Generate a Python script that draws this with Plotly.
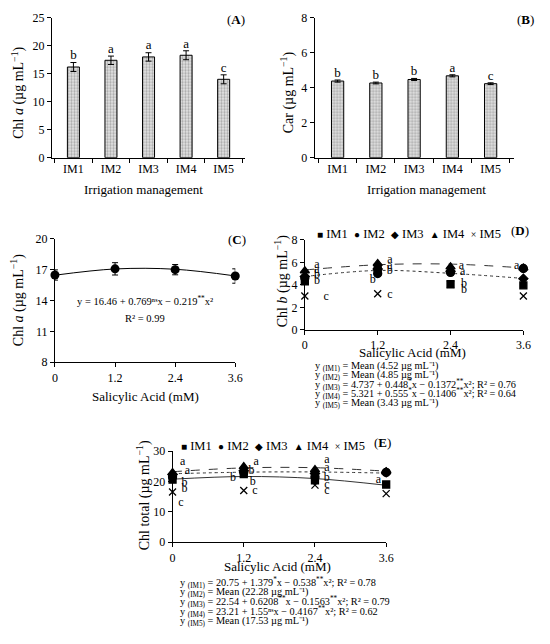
import plotly.graph_objects as go

W, H = 550, 644
FONT = "Liberation Serif"

# (A) and (B): irrigation management
im_labels = ["IM1", "IM2", "IM3", "IM4", "IM5"]
chl_a_im = [16.2, 17.4, 18.0, 18.3, 14.0]
chl_a_im_err = [0.8, 0.75, 0.75, 0.8, 0.8]
chl_a_im_letters = ["b", "a", "a", "a", "c"]
car_im = [4.38, 4.27, 4.47, 4.68, 4.23]
car_im_err = [0.06, 0.05, 0.06, 0.06, 0.05]
car_im_letters = ["b", "b", "b", "a", "c"]

# (C): Chl a vs salicylic acid
sa_doses = [0, 1.2, 2.4, 3.6]
sa_ticks = ["0", "1.2", "2.4", "3.6"]
chl_a_sa = [16.48, 17.08, 17.0, 16.38]
chl_a_sa_err = [0.5, 0.6, 0.5, 0.7]
chl_a_sa_fit = [16.46, 17.07, 17.04, 16.39]

# (D): Chl b, one series per irrigation management
chl_b_im1 = [4.3, 5.5, 4.05, 3.95]
chl_b_im2 = [4.6, 5.0, 5.1, 5.45]
chl_b_im3 = [4.75, 5.4, 5.2, 4.55]
chl_b_im4 = [5.25, 5.9, 5.6, 5.5]
chl_b_im5 = [3.0, 3.2, 4.05, 3.0]
chl_b_fit_im3 = [4.737, 5.277, 5.022, 4.571]
chl_b_fit_im4 = [5.321, 5.783, 5.843, 5.500]
chl_b_letter_x = [0.2, 0.2, 0.2, 0.2, 0.35,
                  1.4, 1.4, 1.4, 1.12, 1.4,
                  2.58, 2.6, 2.62, 2.62,
                  3.49, 3.74, 3.74, 3.74, 3.74]
chl_b_letter_y = [5.75, 5.3, 4.85, 4.3, 2.9,
                  6.2, 5.7, 5.25, 4.45, 3.1,
                  5.7, 5.15, 4.1, 3.5,
                  5.65, 5.95, 4.8, 3.6, 2.8]
chl_b_letter_text = ["a", "a", "b", "b", "c",
                     "a", "a", "b", "b", "c",
                     "a", "a", "b", "b",
                     "a", "a", "b", "c", "d"]

# (E): total chlorophyll
chl_t_im1 = [20.6, 22.4, 20.4, 19.0]
chl_t_im2 = [21.5, 23.0, 21.5, 23.0]
chl_t_im3 = [22.3, 23.5, 22.6, 23.0]
chl_t_im4 = [22.9, 24.9, 23.9, 23.2]
chl_t_im5 = [16.5, 17.0, 18.8, 16.0]
chl_t_fit_im1 = [20.75, 21.63, 20.96, 18.74]
chl_t_fit_im3 = [22.54, 23.06, 23.13, 22.75]
chl_t_fit_im4 = [23.21, 24.47, 24.53, 23.39]
chl_t_letter_x = [0.17, 0.25, 0.2, 0.2, 0.14,
                  1.41, 1.33, 1.02, 1.35, 1.39,
                  2.6, 2.6, 2.6, 2.6, 2.6,
                  3.47, 3.72, 3.72, 3.72, 3.72]
chl_t_letter_y = [26.5, 23.5, 19.5, 17.5, 13.0,
                  26.5, 23.5, 21.1, 19.7, 16.8,
                  27.0, 24.3, 21.1, 18.9, 16.8,
                  20.5, 25.4, 21.1, 17.5, 15.2]
chl_t_letter_text = ["a", "a", "b", "b", "c",
                     "a", "b", "b", "b", "c",
                     "a", "a", "b", "c", "c",
                     "a", "a", "a", "b", "c"]

legend_names = ["IM1", "IM2", "IM3", "IM4", "IM5"]
legend_glyphs = ["■", "●", "◆", "▲", "×"]
eq_c = ["y = 16.46 + 0.769ⁿˢx − 0.219<sup>**</sup>x²",
        "R² = 0.99"]
eq_d = ["y <sub>(IM1)</sub> = Mean (4.52 µg mL⁻¹)",
        "y <sub>(IM2)</sub> = Mean (4.85 µg mL⁻¹)",
        "y <sub>(IM3)</sub> = 4.737 + 0.448<sup>*</sup>x − 0.1372<sup>**</sup>x²; R² = 0.76",
        "y <sub>(IM4)</sub> = 5.321 + 0.555<sup>*</sup>x − 0.1406<sup>**</sup>x²; R² = 0.64",
        "y <sub>(IM5)</sub> = Mean (3.43 µg mL⁻¹)"]
eq_e = ["y <sub>(IM1)</sub> = 20.75 + 1.379<sup>*</sup>x − 0.538<sup>**</sup>x²; R² = 0.78",
        "y <sub>(IM2)</sub> = Mean (22.28 µg mL⁻¹)",
        "y <sub>(IM3)</sub> = 22.54 + 0.6208<sup>**</sup>x − 0.1563<sup>**</sup>x²; R² = 0.79",
        "y <sub>(IM4)</sub> = 23.21 + 1.55ⁿˢx − 0.4167<sup>**</sup>x²; R² = 0.62",
        "y <sub>(IM5)</sub> = Mean (17.53 µg mL⁻¹)"]


def px_x(p):
    return p / W


def px_y(p):
    return 1 - p / H


def ann(text, x, y, size=12, xanchor="center", angle=0):
    return dict(text=text, x=px_x(x), y=px_y(y), xref="paper", yref="paper",
                showarrow=False, xanchor=xanchor, yanchor="middle",
                textangle=angle, font=dict(size=size, family=FONT, color="black"))


fig = go.Figure()

bar_marker = dict(
    color="#dcdcdc",
    line=dict(color="black", width=1),
    pattern=dict(shape=".", fgcolor="#707070", bgcolor="#e4e4e4", size=3, solidity=0.45),
)

# bars A and B
for n, (vals, errs, letters) in enumerate(
        [(chl_a_im, chl_a_im_err, chl_a_im_letters), (car_im, car_im_err, car_im_letters)], start=1):
    ax = "" if n == 1 else str(n)
    fig.add_trace(go.Bar(
        x=im_labels, y=vals, width=0.32, marker=bar_marker,
        error_y=dict(type="data", array=errs, color="black", thickness=1, width=3),
        xaxis="x" + ax, yaxis="y" + ax, showlegend=False,
    ))
    fig.add_trace(go.Scatter(
        x=im_labels, y=[v + e for v, e in zip(vals, errs)], text=letters,
        mode="text", textposition="top center",
        textfont=dict(size=13, family=FONT, color="black"),
        xaxis="x" + ax, yaxis="y" + ax, showlegend=False, cliponaxis=False,
    ))

# C
fig.add_trace(go.Scatter(
    x=sa_doses, y=chl_a_sa_fit, mode="lines", line=dict(color="black", width=1, shape="spline"),
    xaxis="x3", yaxis="y3", showlegend=False,
))
fig.add_trace(go.Scatter(
    x=sa_doses, y=chl_a_sa, mode="markers",
    marker=dict(symbol="circle", size=9, color="black"),
    error_y=dict(type="data", array=chl_a_sa_err, color="black", thickness=1, width=3),
    xaxis="x3", yaxis="y3", showlegend=False, cliponaxis=False,
))

symbols = [("square", 7), ("circle", 8), ("diamond", 7), ("triangle-up", 8), ("x-thin-open", 7)]


def add_series(series, ax, fits, letters):
    for (dash, fit) in fits:
        fig.add_trace(go.Scatter(
            x=sa_doses, y=fit, mode="lines",
            line=dict(color="#333333", width=1, dash=dash, shape="spline"),
            xaxis="x" + ax, yaxis="y" + ax, showlegend=False,
        ))
    for (sym, size), vals in zip(symbols, series):
        fig.add_trace(go.Scatter(
            x=sa_doses, y=vals, mode="markers",
            marker=dict(symbol=sym, size=size, color="black", line=dict(color="black", width=1.3)),
            xaxis="x" + ax, yaxis="y" + ax, showlegend=False, cliponaxis=False,
        ))
    lx, ly, lt = letters
    fig.add_trace(go.Scatter(
        x=lx, y=ly, text=lt, mode="text", textposition="middle center",
        textfont=dict(size=12, family=FONT, color="black"),
        xaxis="x" + ax, yaxis="y" + ax, showlegend=False, cliponaxis=False,
    ))


add_series([chl_b_im1, chl_b_im2, chl_b_im3, chl_b_im4, chl_b_im5], "4",
           [("dot", chl_b_fit_im3), ("dash", chl_b_fit_im4)],
           (chl_b_letter_x, chl_b_letter_y, chl_b_letter_text))
add_series([chl_t_im1, chl_t_im2, chl_t_im3, chl_t_im4, chl_t_im5], "5",
           [("solid", chl_t_fit_im1), ("dot", chl_t_fit_im3), ("dash", chl_t_fit_im4)],
           (chl_t_letter_x, chl_t_letter_y, chl_t_letter_text))

axis_style = dict(showline=True, linecolor="black", linewidth=1, ticks="outside",
                  ticklen=4, tickcolor="black", showgrid=False, zeroline=False,
                  tickfont=dict(size=12, family=FONT, color="black"))


def dom_x(a, b):
    return [px_x(a), px_x(b)]


def dom_y(top, bottom):
    return [px_y(bottom), px_y(top)]


sa_x = dict(axis_style, tickvals=sa_doses, ticktext=sa_ticks, range=[0, 3.6])

fig.update_layout(
    width=W, height=H,
    margin=dict(l=0, r=0, t=0, b=0),
    paper_bgcolor="white", plot_bgcolor="white",
    font=dict(family=FONT, color="black"),
    xaxis=dict(axis_style, domain=dom_x(50, 247), range=[-0.57, 4.57], tickson="boundaries", anchor="y"),
    yaxis=dict(axis_style, domain=dom_y(11, 154), range=[0, 25], dtick=5, anchor="x"),
    xaxis2=dict(axis_style, domain=dom_x(318, 521), range=[-0.6, 4.6], tickson="boundaries", anchor="y2"),
    yaxis2=dict(axis_style, domain=dom_y(11, 154), range=[0, 8], dtick=2, anchor="x2"),
    xaxis3=dict(sa_x, domain=dom_x(53, 237), anchor="y3"),
    yaxis3=dict(axis_style, domain=dom_y(237, 363), range=[8, 20], tick0=8, dtick=3, anchor="x3"),
    xaxis4=dict(sa_x, domain=dom_x(308, 531), anchor="y4"),
    yaxis4=dict(axis_style, domain=dom_y(238, 330), range=[0, 8], dtick=2, anchor="x4"),
    xaxis5=dict(sa_x, domain=dom_x(173, 391), anchor="y5"),
    yaxis5=dict(axis_style, domain=dom_y(454, 547), range=[0, 30], dtick=10, anchor="x5"),
)

legend_text = "  ".join(
    f'<span style="font-size:10px">{g}</span> {n}' for g, n in zip(legend_glyphs, legend_names))

annotations = [
    ann("(<b>A</b>)", 238, 13, 13),
    ann("(<b>B</b>)", 533, 13, 13),
    ann("(<b>C</b>)", 239, 238, 13),
    ann("(<b>D</b>)", 528, 228, 13),
    ann("(<b>E</b>)", 387, 445, 13),
    ann("Irrigation management", 143, 187, 13),
    ann("Irrigation management", 432, 187, 13),
    ann("Salicylic Acid (mM)", 145, 398, 13),
    ann("Salicylic Acid (mM)", 418, 353, 13),
    ann("Salicylic Acid (mM)", 280, 572, 13),
    ann("Chl <i>a</i> (µg mL<sup>−1</sup>)", 15, 88, 14, angle=-90),
    ann("Car (µg mL<sup>−1</sup>)", 290, 87, 14, angle=-90),
    ann("Chl <i>a</i> (µg mL<sup>−1</sup>)", 15, 300, 14, angle=-90),
    ann("Chl <i>b</i> (µg mL<sup>−1</sup>)", 285, 280, 14, angle=-90),
    ann("Chl total (µg mL<sup>−1</sup>)", 143, 499, 14, angle=-90),
    ann(legend_text, 318, 232, 12.5, xanchor="left"),
    ann(legend_text, 180, 449, 12.5, xanchor="left"),
    ann(eq_c[0], 145, 300, 10.5),
    ann(eq_c[1], 145, 318, 10.5),
]
for i, line in enumerate(eq_d):
    annotations.append(ann(line, 316, 367 + i * 9.6, 10.3, xanchor="left"))
for i, line in enumerate(eq_e):
    annotations.append(ann(line, 179, 589 + i * 9.8, 10.3, xanchor="left"))

fig.update_layout(annotations=annotations)

# the page's default body margin would shift the whole figure by 8 px
fig.write_html("out.html", config={"displayModeBar": False},
               post_script="document.body.style.margin='0px';")
